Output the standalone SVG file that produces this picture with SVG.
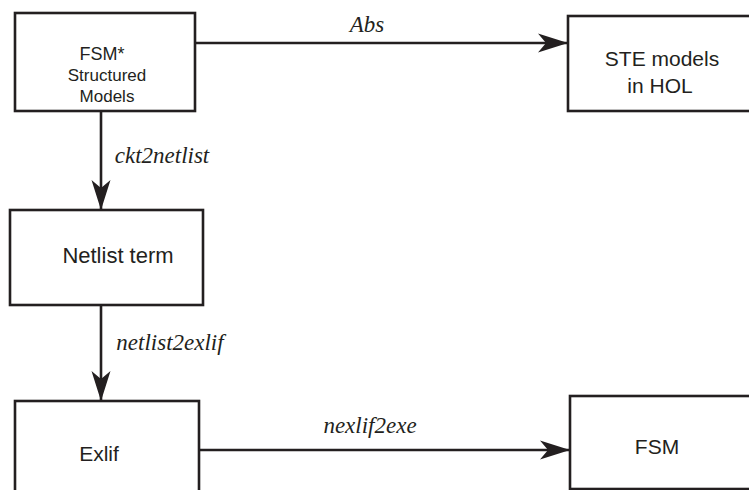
<svg xmlns="http://www.w3.org/2000/svg" width="749" height="490" viewBox="0 0 749 490">
  <style>
    .box { fill: #ffffff; stroke: #231f20; stroke-width: 2.6; }
    .lbl { font-family: "Liberation Sans", Arial, sans-serif; fill: #231f20; text-anchor: middle; }
    .edge-lbl { font-family: "Liberation Serif", "Times New Roman", serif; font-style: italic; fill: #231f20; text-anchor: middle; font-size: 23px; }
    .wire { fill: none; stroke: #231f20; stroke-width: 2.6; }
  </style>
  <defs>
    <marker id="barb" markerUnits="userSpaceOnUse" viewBox="-31 -10 32 20" refX="0" refY="0" markerWidth="32" markerHeight="20" orient="auto">
      <path d="M0,0 L-30,-9.5 L-22,0 L-30,9.5 Z" fill="#231f20"/>
    </marker>
  </defs>
  <rect width="749" height="490" fill="#ffffff"/>

  <!-- connectors -->
  <g id="connectors">
    <path class="wire" d="M195,43 H568" marker-end="url(#barb)"/>
    <text class="edge-lbl" x="367" y="32">Abs</text>
    <path class="wire" d="M101,111 V210" marker-end="url(#barb)"/>
    <text class="edge-lbl" x="162" y="163" text-anchor="middle">ckt2netlist</text>
    <path class="wire" d="M101,305 V401" marker-end="url(#barb)"/>
    <text class="edge-lbl" x="170" y="350" font-size="24px">netlist2exlif</text>
    <path class="wire" d="M199,450 H570" marker-end="url(#barb)"/>
    <text class="edge-lbl" x="370" y="433">nexlif2exe</text>
  </g>

  <g id="fsm-structured">
    <rect class="box" x="15" y="13" width="180" height="98"/>
    <text class="lbl" x="102" y="60" font-size="18">FSM*</text>
    <text class="lbl" x="107" y="81" font-size="17">Structured</text>
    <text class="lbl" x="107" y="102" font-size="17">Models</text>
  </g>

  <g id="ste-models">
    <rect class="box" x="568" y="16" width="200" height="95"/>
    <text class="lbl" x="662" y="66" font-size="21">STE models</text>
    <text class="lbl" x="660" y="93" font-size="21">in HOL</text>
  </g>

  <g id="netlist-term">
    <rect class="box" x="10" y="210" width="193" height="95"/>
    <text class="lbl" x="118" y="263" font-size="22">Netlist term</text>
  </g>

  <g id="exlif">
    <rect class="box" x="15" y="401" width="184" height="120"/>
    <text class="lbl" x="99" y="461" font-size="21">Exlif</text>
  </g>

  <g id="fsm">
    <rect class="box" x="570" y="396" width="200" height="93"/>
    <text class="lbl" x="657" y="454" font-size="21">FSM</text>
  </g>
</svg>
